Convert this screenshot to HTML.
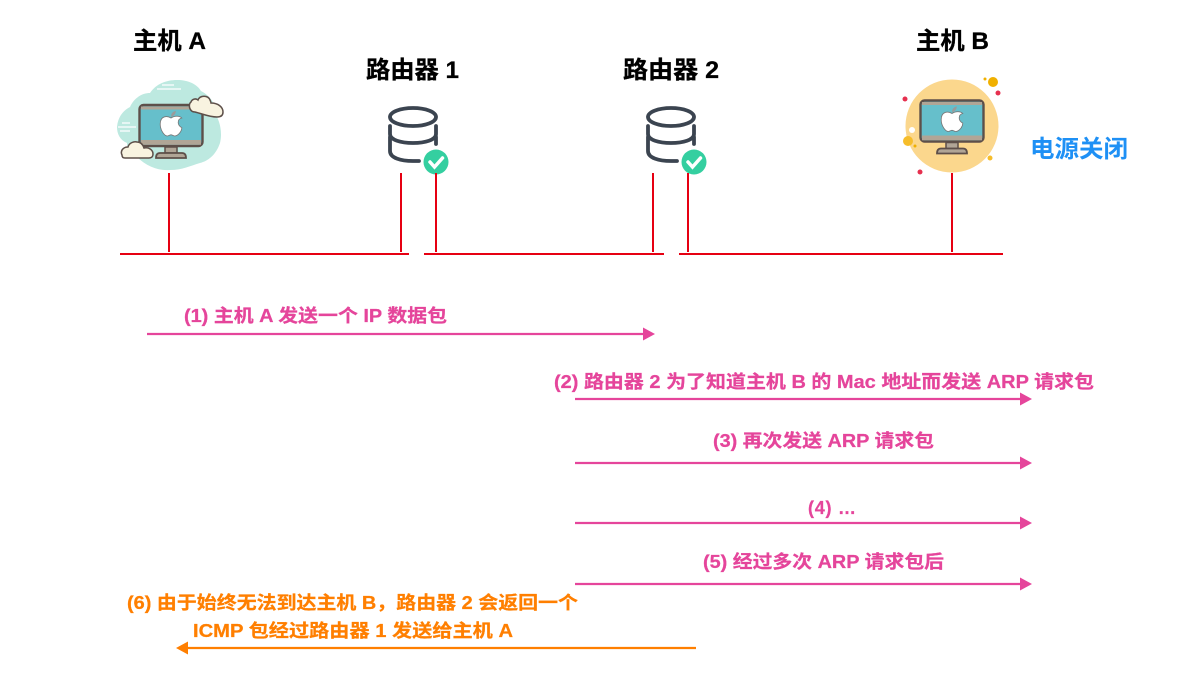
<!DOCTYPE html>
<html><head><meta charset="utf-8"><style>
html,body{margin:0;padding:0;background:#fff;}
svg{display:block;}
text{font-family:"Liberation Sans","Noto Sans CJK SC",sans-serif;font-weight:bold;}
.t{font-size:24px;fill:#000;stroke:#000;stroke-width:.3px;}
.p{font-size:18px;fill:#e5459b;stroke:#e5459b;stroke-width:.25px;}
.o{font-size:18px;fill:#ff7f00;stroke:#ff7f00;stroke-width:.25px;}
</style></head><body>
<svg width="1194" height="675" viewBox="0 0 1194 675" xmlns="http://www.w3.org/2000/svg">
<defs>
<g id="mon">
<rect x="-31.500" y="-20" width="63" height="41" rx="4" fill="#66bfcb" stroke="#5d4f49" stroke-width="2.400"/>
<rect x="-30" y="-18.500" width="60" height="3" fill="#b0a596"/>
<rect x="-30" y="15" width="60" height="4.800" fill="#b0a596"/>
<rect x="-6" y="22" width="12" height="6" fill="#b0a596" stroke="#5d4f49" stroke-width="1.500"/>
<path d="M-15 33 q0-5 4-5 h22 q4 0 4 5z" fill="#b0a596" stroke="#5d4f49" stroke-width="1.800"/>
<g transform="translate(0,-1) scale(1.2)">
<path d="M0-5 c-3-2-9-2-9 5 c0 6 4 10 6 10 c1 0 2-1 3-1 c1 0 2 1 3 1 c3 0 6-4 6-7 c-4-2-4-7 0-8 c-2-2-6-2-9 0z" fill="#fff" stroke="#777" stroke-width=".7"/>
<path d="M0-6 q0-4 4-5 q0 4-4 5z" fill="#9a9a9a"/>
</g>
</g>
<g id="db" fill="none" stroke="#3b4450" stroke-width="3.800" stroke-linecap="round">
<ellipse cx="0" cy="0" rx="23" ry="9"/>
<path d="M23 9 v8 c0 6-11 9-23 9 c-12 0-23-3-23-9 V9"/>
<path d="M-23 20 v14 c0 7 11 10 23 10 h6"/>
<path d="M23 20 v7"/>
<circle cx="23" cy="45" r="12.500" fill="#34cfa0" stroke="none"/>
<path d="M17 45 l4.500 5 l8-9" stroke="#fff" stroke-width="3.500"/>
</g>
</defs>

<text class="t" x="133" y="49" textLength="73" lengthAdjust="spacingAndGlyphs">主机 A</text>
<text class="t" x="366" y="78" textLength="93" lengthAdjust="spacingAndGlyphs">路由器 1</text>
<text class="t" x="623" y="78" textLength="96" lengthAdjust="spacingAndGlyphs">路由器 2</text>
<text class="t" x="916" y="49" textLength="73" lengthAdjust="spacingAndGlyphs">主机 B</text>
<text x="1030" y="157" textLength="98" lengthAdjust="spacingAndGlyphs" style="font-size:24px;fill:#1e90f5">电源关闭</text>

<!-- host A -->
<path d="M117 127 C118 116 124 110 130 107 C134 98 142 93 150 93 C156 84 166 80 177 80 C188 80 197 84 201 91 C211 96 217 106 217 117 C221 125 222 135 220 143 C216 155 208 161 200 163 C190 166 182 170 170 170 C158 171 146 166 137 157 C130 154 127 149 127 143 C120 140 117 134 117 127z" fill="#bde9e0"/>
<g stroke="#fff" stroke-width="1.200"><path d="M157 89h24M162 85h12M118 127h18M122 123h8M120 131h10"/></g>
<use href="#mon" x="171" y="125"/>
<path d="M191 102 c1-3 5-4 7-2 c2-5 10-5 12 0 c1 2 1 3 1 3 c7 0 12 4 12 9 c0 4-3 5-6 5 c-8 0-14-3-22-5 c-6 0-7-8-4-10z" fill="#f8f3e0" stroke="#5d4f49" stroke-width="1.500"/>
<path d="M122 155 c-2-4 1-8 6-8 c1-4 6-6 9-5 c4 0 6 3 7 6 c5-1 9 2 9 6 c0 3-2 4-4 4 h-24 c-2 0-3-1-3-3z" fill="#f8f3e0" stroke="#5d4f49" stroke-width="1.500"/>

<!-- routers -->
<use href="#db" x="413" y="117"/>
<use href="#db" x="671" y="117"/>

<!-- host B -->
<circle cx="952" cy="126" r="46.500" fill="#fbd78d"/>
<circle cx="993" cy="82" r="5" fill="#f0b000"/>
<circle cx="985" cy="79" r="1.500" fill="#f0b000"/>
<circle cx="998" cy="93" r="2.500" fill="#e6304f"/>
<circle cx="905" cy="99" r="2.500" fill="#e6304f"/>
<circle cx="912" cy="130" r="3" fill="#fff"/>
<circle cx="908" cy="141" r="5" fill="#f6bd2b"/>
<circle cx="915" cy="146" r="1.500" fill="#f0b000"/>
<circle cx="990" cy="158" r="2.500" fill="#f6bd2b"/>
<circle cx="920" cy="172" r="2.500" fill="#e6304f"/>
<use href="#mon" x="952" y="120.500" />

<!-- red network -->
<g stroke="#e60012" stroke-width="2" fill="none">
<path d="M169 173V252M401 173V252M436 173V252M653 173V252M688 173V252M952 173V252"/>
<path d="M120 254H409M424 254H664M679 254H1003"/>
</g>

<!-- arrows -->
<g stroke="#e5459b" stroke-width="2.200">
<path d="M147 334H645M575 399H1022M575 463H1022M575 523H1022M575 584H1022"/>
</g>
<g fill="#e5459b">
<path d="M643 327.500L655 334L643 340.500z"/>
<path d="M1020 392.500L1032 399L1020 405.500z"/>
<path d="M1020 456.500L1032 463L1020 469.500z"/>
<path d="M1020 516.500L1032 523L1020 529.500z"/>
<path d="M1020 577.500L1032 584L1020 590.500z"/>
</g>
<path d="M186 648H696" stroke="#ff7f00" stroke-width="2.200"/>
<path d="M188 641.500L176 648L188 654.500z" fill="#ff7f00"/>

<!-- labels -->
<text class="p" x="184" y="322" textLength="263" lengthAdjust="spacingAndGlyphs">(1) 主机 A 发送一个 IP 数据包</text>
<text class="p" x="554" y="388" textLength="540" lengthAdjust="spacingAndGlyphs">(2) 路由器 2 为了知道主机 B 的 Mac 地址而发送 ARP 请求包</text>
<text class="p" x="713" y="447" textLength="221" lengthAdjust="spacingAndGlyphs">(3) 再次发送 ARP 请求包</text>
<text class="p" x="808" y="514" textLength="48" lengthAdjust="spacing">(4) …</text>
<text class="p" x="703" y="568" textLength="241" lengthAdjust="spacingAndGlyphs">(5) 经过多次 ARP 请求包后</text>
<text class="o" x="127" y="609" textLength="451" lengthAdjust="spacingAndGlyphs">(6) 由于始终无法到达主机 B，路由器 2 会返回一个</text>
<text class="o" x="193" y="637" textLength="320" lengthAdjust="spacingAndGlyphs">ICMP 包经过路由器 1 发送给主机 A</text>
</svg>
</body></html>
